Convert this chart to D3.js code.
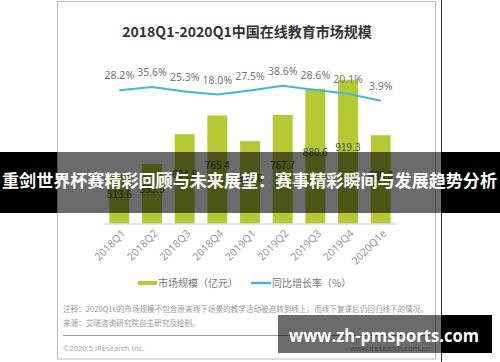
<!DOCTYPE html>
<html>
<head>
<meta charset="utf-8">
<script src="https://cdn.jsdelivr.net/npm/d3@7"></script>
<style>
  body { margin: 0; background: #fff; }
  svg { display: block; }
  text { font-family: "Noto Sans CJK SC", "Noto Sans", sans-serif; }
</style>
</head>
<body>
<svg id="chart" width="500" height="362"></svg>
<script>
// data
const quarters = ["2018Q1", "2018Q2", "2018Q3", "2018Q4", "2019Q1", "2019Q2", "2019Q3", "2019Q4", "2020Q1e"];
const marketSize = [513.6, 555.9, 684.8, 765.4, 654.8, 767.7, 880.6, 919.3, 680.3];
const growthRate = [28.2, 35.6, 25.3, 18.0, 27.5, 38.6, 28.6, 20.1, 3.9];
const legendNames = ["市场规模（亿元）", "同比增长率（%）"];
const titleText = "2018Q1-2020Q1中国在线教育市场规模";
const noteLines = [
  "注释：2020Q1e的市场规模不包含原来线下场景的教学活动被迫转到线上，而线下复课后仍回归线下的情况。",
  "来源：艾瑞咨询研究院自主研究及绘制。"
];
const bannerText = "重剑世界杯赛精彩回顾与未来展望：赛事精彩瞬间与发展趋势分析";
const siteText = "www.zh-pmsports.com";

const barColor = "#b3ca33";
const lineColor = "#3db8d8";

const svg = d3.select("#chart");

// card
svg.append("rect")
    .attr("x", 57.5).attr("y", 1.5)
    .attr("width", 378).attr("height", 357.5)
    .attr("fill", "#fff").attr("stroke", "#bbb");
svg.append("line")
    .attr("x1", 441.5).attr("x2", 441.5).attr("y1", 0).attr("y2", 362)
    .attr("stroke", "#333");

svg.append("text")
    .attr("x", 247).attr("y", 37)
    .attr("text-anchor", "middle")
    .style("font-size", "14px").style("font-weight", "bold")
    .attr("fill", "#333")
    .text(titleText);

const x = d3.scaleBand()
    .domain(quarters)
    .range([103, 397])
    .paddingInner(0.39)
    .paddingOuter(0.195);

const y = d3.scaleLinear().domain([300, 1000]).range([223.5, 61]);
const yRate = d3.scaleLinear().domain([0, 40]).range([102.4, 85.1]);

// bars
svg.append("g").selectAll("rect")
    .data(marketSize)
  .enter().append("rect")
    .attr("x", (d, i) => x(quarters[i]))
    .attr("y", d => y(d))
    .attr("width", x.bandwidth())
    .attr("height", d => y.range()[0] - y(d))
    .attr("fill", barColor);

svg.append("g").selectAll("text")
    .data(marketSize)
  .enter().append("text")
    .attr("x", (d, i) => x(quarters[i]) + x.bandwidth() / 2)
    .attr("y", d => (y(d) + y.range()[0]) / 2 - 4)
    .attr("dy", "0.35em")
    .attr("text-anchor", "middle")
    .style("font-size", "10px")
    .attr("fill", "#444")
    .text(d => d.toFixed(1));

// axis
const axis = svg.append("g")
    .attr("transform", "translate(0," + y.range()[0] + ")")
    .call(d3.axisBottom(x).tickSize(0).tickPadding(0));
axis.select(".domain").attr("stroke", "#ccc");
axis.selectAll(".tick text")
    .attr("text-anchor", "end")
    .attr("transform", "translate(4,8) rotate(-45)")
    .attr("dy", "0.35em")
    .style("font-size", "10.5px")
    .style("font-family", "\"Noto Sans\", sans-serif")
    .attr("fill", "#999");

// growth line
const line = d3.line()
    .x((d, i) => x(quarters[i]) + x.bandwidth() / 2)
    .y(d => yRate(d));
svg.append("path")
    .datum(growthRate)
    .attr("d", line)
    .attr("fill", "none")
    .attr("stroke", lineColor)
    .attr("stroke-width", 2);

svg.append("g").selectAll("text")
    .data(growthRate)
  .enter().append("text")
    .attr("x", (d, i) => x(quarters[i]) + x.bandwidth() / 2)
    .attr("y", d => yRate(d) - 14.5)
    .attr("dy", "0.35em")
    .attr("text-anchor", "middle")
    .style("font-size", "10.5px")
    .style("font-family", "\"Noto Sans\", sans-serif")
    .attr("fill", "#777")
    .text(d => d.toFixed(1) + "%");

// legend
const legend = svg.append("g");
legend.append("rect")
    .attr("x", 138).attr("y", 281).attr("width", 19).attr("height", 4)
    .attr("fill", barColor);
legend.append("line")
    .attr("x1", 251).attr("x2", 271).attr("y1", 283).attr("y2", 283)
    .attr("stroke", lineColor).attr("stroke-width", 2.5);
legend.selectAll("text")
    .data(legendNames)
  .enter().append("text")
    .attr("x", (d, i) => i === 0 ? 158 : 272)
    .attr("y", 283)
    .attr("dy", "0.35em")
    .style("font-size", "10px")
    .attr("fill", "#777")
    .text(d => d);

// notes
svg.append("g").selectAll("text")
    .data(noteLines)
  .enter().append("text")
    .attr("x", 63)
    .attr("y", (d, i) => 309 + i * 14)
    .attr("dy", "0.35em")
    .style("font-size", "7.6px")
    .attr("fill", "#999")
    .text(d => d);

svg.append("line")
    .attr("x1", 63).attr("x2", 430).attr("y1", 335.5).attr("y2", 335.5)
    .attr("stroke", "#999");
svg.append("text")
    .attr("x", 63).attr("y", 348).attr("dy", "0.35em")
    .style("font-size", "7.6px").attr("fill", "#aaa")
    .style("font-family", "\"Noto Sans\", sans-serif")
    .text("©2020.5 iResearch Inc.");
svg.append("text")
    .attr("x", 430).attr("y", 348).attr("dy", "0.35em")
    .attr("text-anchor", "end")
    .style("font-size", "7.6px").attr("fill", "#aaa")
    .style("font-family", "\"Noto Sans\", sans-serif")
    .text("www.iresearch.com.cn");

// overlays
function overlay(x0, x1, top, h) {
  svg.append("rect").attr("x", x0).attr("y", top).attr("width", 57 - x0 > 0 ? 57 - x0 : 0).attr("height", h).attr("fill", "#000");
  svg.append("rect").attr("x", Math.max(x0, 57)).attr("y", top).attr("width", 441 - Math.max(x0, 57)).attr("height", h).attr("fill", "rgba(0,0,0,0.58)");
  svg.append("rect").attr("x", 441).attr("y", top).attr("width", x1 - 441).attr("height", h).attr("fill", "#000");
}
overlay(0, 500, 152, 61);
svg.append("text")
    .attr("x", 2).attr("y", 181).attr("dy", "0.35em")
    .attr("textLength", 495).attr("lengthAdjust", "spacingAndGlyphs")
    .style("font-size", "17px").style("font-weight", "bold")
    .attr("fill", "#fff")
    .text(bannerText);

overlay(278, 492, 315, 38);
svg.append("text")
    .attr("x", 289).attr("y", 336).attr("dy", "0.35em")
    .attr("textLength", 190).attr("lengthAdjust", "spacingAndGlyphs")
    .style("font-size", "18px").style("font-weight", "bold")
    .style("font-family", "\"Open Sans\", sans-serif")
    .attr("fill", "#fff")
    .text(siteText);
</script>
</body>
</html>
